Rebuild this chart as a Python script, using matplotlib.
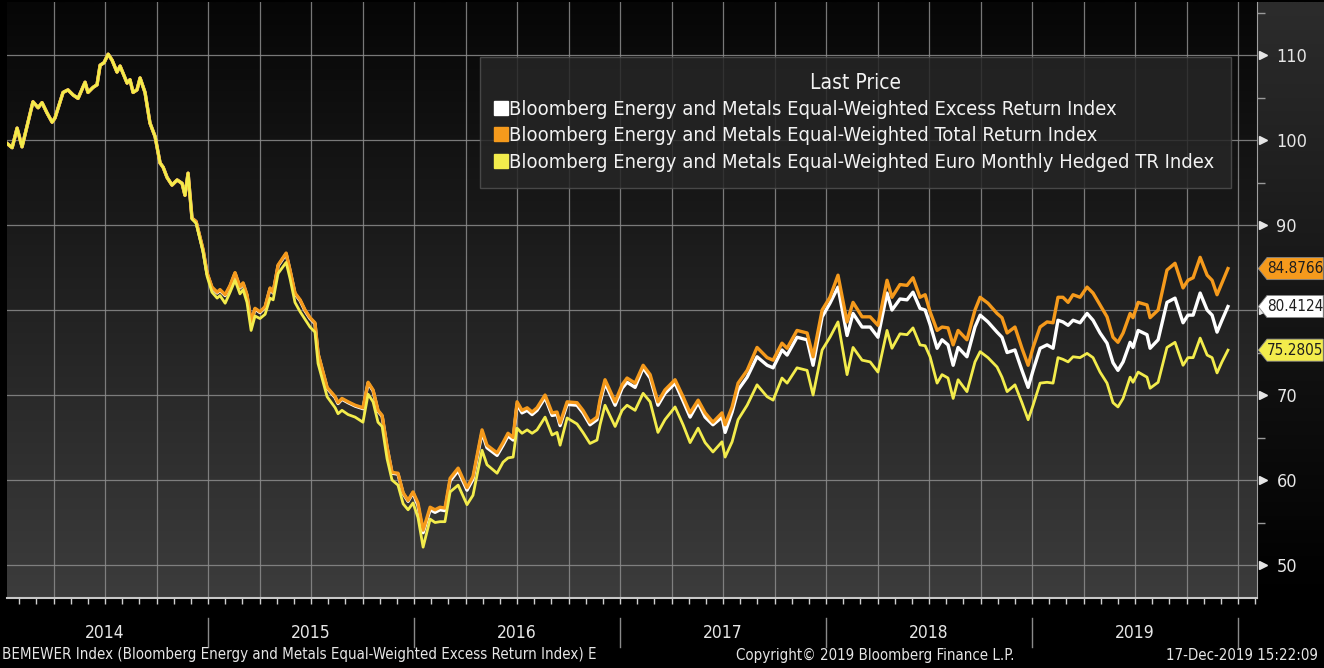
import numpy as np
import matplotlib
matplotlib.use("Agg")
import matplotlib.pyplot as plt
from matplotlib.colors import LinearSegmentedColormap
from matplotlib.lines import Line2D
from matplotlib.patches import Polygon
from matplotlib.transforms import blended_transform_factory

plt.rcParams['font.family'] = ['DejaVu Sans']
plt.rcParams['font.stretch'] = 'condensed'

# time axis in decimal years (roughly weekly/bi-weekly)
t_years = [
    2014.024, 2014.049, 2014.073, 2014.097, 2014.150, 2014.175, 2014.194, 2014.218, 2014.243, 2014.257,
    2014.296, 2014.320, 2014.345, 2014.369, 2014.403, 2014.417, 2014.442, 2014.461, 2014.476, 2014.495,
    2014.515, 2014.534, 2014.558, 2014.573, 2014.607, 2014.621, 2014.636, 2014.655, 2014.670, 2014.694,
    2014.718, 2014.743, 2014.767, 2014.782, 2014.801, 2014.825, 2014.850, 2014.874, 2014.888, 2014.903,
    2014.922, 2014.942, 2014.976, 2014.995, 2015.019, 2015.044, 2015.058, 2015.083, 2015.107, 2015.131,
    2015.155, 2015.170, 2015.189, 2015.209, 2015.228, 2015.252, 2015.277, 2015.301, 2015.316, 2015.340,
    2015.379, 2015.398, 2015.422, 2015.447, 2015.471, 2015.495, 2015.519, 2015.534, 2015.578, 2015.617,
    2015.631, 2015.650, 2015.680, 2015.714, 2015.752, 2015.777, 2015.801, 2015.825, 2015.845, 2015.869,
    2015.893, 2015.922, 2015.947, 2015.971, 2015.995, 2016.019, 2016.044, 2016.078, 2016.102, 2016.126,
    2016.150, 2016.175, 2016.214, 2016.257, 2016.286, 2016.330, 2016.354, 2016.403, 2016.432, 2016.456,
    2016.481, 2016.500, 2016.524, 2016.549, 2016.573, 2016.597, 2016.636, 2016.670, 2016.694, 2016.709,
    2016.743, 2016.791, 2016.820, 2016.854, 2016.888, 2016.903, 2016.927, 2016.976, 2017.010, 2017.034,
    2017.073, 2017.112, 2017.146, 2017.184, 2017.218, 2017.267, 2017.306, 2017.340, 2017.379, 2017.413,
    2017.451, 2017.495, 2017.510, 2017.544, 2017.573, 2017.617, 2017.665, 2017.714, 2017.743, 2017.786,
    2017.811, 2017.859, 2017.908, 2017.937, 2017.981, 2018.019, 2018.058, 2018.102, 2018.131, 2018.175,
    2018.214, 2018.252, 2018.296, 2018.320, 2018.359, 2018.393, 2018.422, 2018.456, 2018.481, 2018.505,
    2018.539, 2018.563, 2018.592, 2018.617, 2018.641, 2018.684, 2018.723, 2018.748, 2018.786, 2018.830,
    2018.854, 2018.879, 2018.917, 2018.951, 2018.981, 2019.005, 2019.039, 2019.073, 2019.102, 2019.126,
    2019.150, 2019.175, 2019.199, 2019.233, 2019.267, 2019.296, 2019.330, 2019.364, 2019.393, 2019.417,
    2019.442, 2019.476, 2019.490, 2019.515, 2019.558, 2019.573, 2019.612, 2019.655, 2019.694, 2019.733,
    2019.757, 2019.782, 2019.816, 2019.850, 2019.874, 2019.898, 2019.922, 2019.951,
]

# Total Return index (orange)
total_return = [
    99.6, 99.1, 101.4, 99.2, 104.5, 103.8, 104.4, 103.2, 102.1, 102.6,
    105.6, 105.9, 105.3, 104.9, 106.8, 105.6, 106.2, 106.5, 108.8, 109.1,
    110.1, 109.4, 108.0, 108.7, 106.7, 107.1, 105.6, 105.9, 107.3, 105.6,
    102.0, 100.4, 97.3, 96.8, 95.6, 94.7, 95.3, 94.9, 93.5, 96.1,
    90.8, 90.4, 87.1, 84.4, 82.7, 82.1, 82.4, 81.8, 82.9, 84.4,
    82.7, 83.2, 81.8, 78.6, 80.2, 79.8, 80.4, 82.6, 82.1, 85.3,
    86.7, 84.7, 82.0, 81.2, 80.0, 79.1, 78.5, 74.9, 70.9, 69.8,
    69.1, 69.6, 69.2, 68.8, 68.5, 71.5, 70.6, 68.2, 67.6, 63.9,
    60.9, 60.8, 58.5, 57.6, 58.6, 57.3, 54.1, 56.8, 56.5, 56.8,
    56.7, 60.2, 61.4, 59.1, 60.4, 65.9, 64.1, 63.2, 64.4, 65.5,
    65.0, 69.2, 68.2, 68.5, 68.0, 68.5, 70.0, 67.9, 68.0, 66.7,
    69.2, 69.1, 68.2, 66.8, 67.4, 69.5, 71.8, 69.2, 71.2, 72.0,
    71.4, 73.5, 72.4, 69.2, 70.6, 71.8, 69.8, 67.9, 69.4, 67.9,
    66.8, 67.9, 66.5, 68.6, 71.4, 72.9, 75.6, 74.4, 74.1, 76.1,
    75.5, 77.6, 77.3, 74.5, 80.0, 81.5, 84.1, 78.6, 80.9, 79.2,
    79.2, 78.2, 83.5, 81.5, 83.0, 82.9, 83.8, 81.5, 81.8, 79.8,
    77.6, 78.0, 77.9, 75.9, 77.6, 76.5, 80.0, 81.5, 80.8, 79.6,
    79.1, 77.3, 78.0, 75.5, 73.5, 75.6, 78.0, 78.6, 78.5, 81.5,
    81.5, 80.9, 81.8, 81.5, 82.7, 82.0, 80.6, 79.2, 76.8, 76.2,
    77.3, 79.6, 79.1, 80.9, 80.6, 79.1, 80.0, 84.7, 85.5, 82.6,
    83.5, 83.8, 86.2, 84.1, 83.5, 81.8, 83.2, 84.8766,
]

# Excess Return index (white)
excess_return = [
    99.6, 99.1, 101.4, 99.2, 104.5, 103.8, 104.4, 103.2, 102.1, 102.6,
    105.6, 105.9, 105.3, 104.9, 106.8, 105.6, 106.2, 106.5, 108.8, 109.1,
    110.1, 109.4, 108.0, 108.7, 106.7, 107.1, 105.6, 105.9, 107.3, 105.6,
    102.0, 100.4, 97.3, 96.8, 95.6, 94.7, 95.3, 94.9, 93.5, 96.1,
    90.8, 90.4, 87.0, 84.3, 82.6, 82.0, 82.3, 81.7, 82.8, 84.3,
    82.6, 83.1, 81.7, 78.5, 80.1, 79.7, 80.3, 82.5, 82.0, 85.2,
    86.6, 84.6, 81.9, 81.1, 79.9, 79.0, 78.4, 74.8, 70.8, 69.7,
    69.0, 69.5, 69.1, 68.7, 68.4, 71.4, 70.5, 68.1, 67.5, 63.8,
    60.8, 60.7, 58.4, 57.5, 58.5, 57.0, 53.8, 56.5, 56.2, 56.5,
    56.4, 59.9, 61.1, 58.8, 60.1, 65.6, 63.8, 62.9, 64.1, 65.2,
    64.7, 68.9, 67.9, 68.2, 67.7, 68.2, 69.7, 67.6, 67.7, 66.4,
    68.9, 68.8, 67.9, 66.5, 67.1, 69.1, 71.4, 68.8, 70.8, 71.5,
    70.9, 73.2, 72.0, 68.8, 70.2, 71.4, 69.3, 67.4, 69.1, 67.4,
    66.5, 67.4, 65.6, 68.0, 70.6, 72.1, 74.5, 73.5, 73.2, 75.3,
    74.7, 76.8, 76.5, 73.5, 79.2, 80.8, 82.7, 77.0, 79.6, 78.0,
    78.0, 76.8, 82.0, 80.0, 81.3, 81.2, 82.1, 80.2, 80.0, 78.3,
    75.5, 76.5, 75.9, 73.5, 75.6, 74.5, 78.0, 79.4, 78.6, 77.4,
    76.8, 75.0, 75.3, 72.9, 70.9, 72.9, 75.5, 75.9, 75.5, 78.8,
    78.6, 78.2, 78.8, 78.5, 79.6, 78.8, 77.3, 76.1, 73.8, 72.9,
    73.9, 76.2, 75.6, 77.6, 77.1, 75.5, 76.5, 80.9, 81.4, 78.5,
    79.4, 79.4, 82.0, 80.0, 79.4, 77.4, 78.8, 80.4124,
]

# Euro Monthly Hedged TR index (yellow)
euro_hedged = [
    99.6, 99.1, 101.4, 99.2, 104.5, 103.8, 104.4, 103.2, 102.1, 102.6,
    105.6, 105.9, 105.3, 104.9, 106.8, 105.6, 106.2, 106.5, 108.8, 109.1,
    110.1, 109.4, 108.0, 108.7, 106.7, 107.1, 105.6, 105.9, 107.3, 105.6,
    102.0, 100.4, 97.3, 96.8, 95.6, 94.7, 95.3, 94.9, 93.5, 96.1,
    90.7, 90.2, 86.8, 84.0, 82.1, 81.4, 81.7, 80.8, 82.1, 83.5,
    81.9, 82.4, 80.9, 77.6, 79.3, 79.0, 79.5, 81.4, 81.2, 84.3,
    85.6, 83.7, 80.9, 79.8, 78.9, 78.0, 77.4, 73.7, 69.8, 68.5,
    67.8, 68.2, 67.7, 67.4, 66.8, 70.1, 69.2, 66.8, 66.3, 62.5,
    60.0, 59.4, 57.2, 56.5, 57.3, 55.6, 52.1, 55.4, 55.0, 55.1,
    55.1, 58.6, 59.4, 57.1, 58.2, 63.5, 61.8, 60.8, 62.1, 62.6,
    62.7, 66.1, 65.5, 65.9, 65.5, 65.9, 67.4, 65.3, 65.6, 64.1,
    67.3, 66.6, 65.6, 64.3, 64.7, 66.5, 68.8, 66.3, 68.2, 68.8,
    68.2, 70.2, 69.2, 65.6, 67.1, 68.6, 66.5, 64.4, 66.1, 64.4,
    63.3, 64.5, 62.7, 64.5, 67.1, 68.8, 71.2, 69.8, 69.4, 72.0,
    71.4, 73.2, 72.9, 70.0, 75.3, 76.8, 78.6, 72.4, 75.6, 74.1,
    73.9, 72.7, 77.6, 75.5, 77.2, 77.1, 77.9, 75.9, 75.8, 74.5,
    71.4, 72.4, 72.0, 69.6, 71.8, 70.4, 73.9, 75.1, 74.4, 73.3,
    72.1, 70.4, 71.2, 69.1, 67.1, 68.8, 71.4, 71.5, 71.4, 74.4,
    74.2, 73.9, 74.5, 74.4, 74.9, 74.4, 72.7, 71.4, 69.1, 68.6,
    69.6, 72.1, 71.5, 72.7, 72.1, 70.8, 71.5, 75.6, 76.2, 73.5,
    74.4, 74.4, 76.7, 74.7, 74.4, 72.6, 73.9, 75.2805,
]

labels = [
    "Bloomberg Energy and Metals Equal-Weighted Excess Return Index",
    "Bloomberg Energy and Metals Equal-Weighted Total Return Index",
    "Bloomberg Energy and Metals Equal-Weighted Euro Monthly Hedged TR Index",
]
years = [2014, 2015, 2016, 2017, 2018, 2019]
y_major = [50, 60, 70, 80, 90, 100, 110]
# the 80 label sits under the white last-price tag on the original
y_labels = ['50', '60', '70', '', '90', '100', '110']

c_white = '#ffffff'
c_orange = '#f59a1c'
c_yellow = '#f3ec4c'

W, H = 1324, 668
fig = plt.figure(figsize=(W / 100, H / 100), dpi=100, facecolor='black')

# right margin strip (darkish gradient)
side = fig.add_axes([1257 / W, 1 - 598 / H, 67 / W, 596 / H], zorder=-1)
side.imshow(np.linspace(0, 1, 256).reshape(-1, 1), aspect='auto', origin='lower',
            extent=[0, 1, 0, 1],
            cmap=LinearSegmentedColormap.from_list('s', ['#000000', '#2c2c2c']))
side.axis('off')

ax = fig.add_axes([7 / W, 1 - 598 / H, 1250 / W, 596 / H])
grad = LinearSegmentedColormap.from_list('bg', ['#3c3c3c', '#060606'])
ax.imshow(np.linspace(0, 1, 256).reshape(-1, 1), aspect='auto', origin='lower',
          extent=[0, 1, 0, 1], transform=ax.transAxes, cmap=grad, zorder=0)

ax.plot(t_years, excess_return, color=c_white, lw=2.4, zorder=3)
ax.plot(t_years, total_return, color=c_orange, lw=2.4, zorder=4)
ax.plot(t_years, euro_hedged, color=c_yellow, lw=2.0, zorder=5)

# x: quarter grid, monthly ticks
quarters = [y + q * 0.25 for y in range(2014, 2021) for q in range(4)]
months = [y + m / 12 for y in range(2014, 2021) for m in range(12)]
ax.set_xticks([q for q in quarters if q <= 2020.0])
ax.set_xticks(months, minor=True)
ax.tick_params(axis='x', which='both', length=4, width=1, color='#cfcfcf',
               labelbottom=False, direction='out')

# y on the right
ax.yaxis.tick_right()
ax.set_yticks(y_major, y_labels)
ax.set_yticks(range(45, 120, 10), minor=True)
ax.tick_params(axis='y', which='major', length=0, pad=14, labelsize=13,
               labelcolor='#e6e6e6')
ax.tick_params(axis='y', which='minor', length=6, width=1, color='#9a9a9a')

ax.set_xlim(2014.024, 2020.092)
ax.set_ylim(46.12, 116.24)

tr_ax = blended_transform_factory(ax.transAxes, ax.transData)
ax.plot([1.0045] * len(y_major), y_major, marker='>', ms=6, color='#e6e6e6',
        ls='none', transform=tr_ax, clip_on=False, zorder=6)

ax.grid(True, which='major', color='#8c8c8c', lw=0.9, alpha=0.85)
for gl in ax.get_xgridlines() + ax.get_ygridlines():
    gl.set_zorder(1)

for s in ['top', 'left']:
    ax.spines[s].set_visible(False)
ax.spines['right'].set_color('#a0a0a0')
ax.spines['bottom'].set_color('#c8c8c8')
ax.spines['bottom'].set_linewidth(1.5)

# year labels and separators under the axis
tr_x = blended_transform_factory(ax.transData, ax.transAxes)
for y in years:
    ax.text(y + 0.5, -0.058, str(y), transform=tr_x, ha='center', va='center',
            color='#e6e6e6', fontsize=12.5, clip_on=False)
for y in years[1:] + [2020]:
    ax.plot([y, y], [-0.034, -0.082], transform=tr_x, color='#8a8a8a', lw=1,
            clip_on=False)

# last price tags
for val, fc in [(total_return[-1], c_orange), (excess_return[-1], c_white),
                (euro_hedged[-1], c_yellow)]:
    h = 1.3
    pts = [(1.001, val), (1.008, val + h), (1.053, val + h), (1.053, val - h),
           (1.008, val - h)]
    ax.add_patch(Polygon(pts, closed=True, transform=tr_ax, facecolor=fc,
                         edgecolor='#888888', lw=0.6, clip_on=False, zorder=7))
    ax.text(1.0305, val, f"{val:.4f}", transform=tr_ax, ha='center', va='center',
            fontsize=11, color='#1e1e1e', clip_on=False, zorder=8)

# legend
handles = [Line2D([], [], marker='s', ls='none', ms=9.5, markerfacecolor=c,
                  markeredgecolor=c) for c in (c_white, c_orange, c_yellow)]
leg = ax.legend(handles, labels, title='Last Price', loc='upper right',
                bbox_to_anchor=(0.979, 0.908), frameon=True, fancybox=False,
                facecolor='#262626', edgecolor='#505050', framealpha=0.85,
                fontsize=14.5, title_fontsize=15, labelcolor='#f2f2f2',
                handlelength=0.5, handletextpad=0.15, labelspacing=0.36,
                borderpad=0.8, borderaxespad=0)
leg.get_title().set_color('#f2f2f2')
leg.set_zorder(10)

# footer
fig.text(2 / W, 1 - 655 / H, "BEMEWER Index (Bloomberg Energy and Metals Equal-Weighted Excess Return Index) E",
         ha='left', va='center', color='#e6e6e6', fontsize=10.8)
fig.text(875 / W, 1 - 655 / H, "Copyright\u00a9 2019 Bloomberg Finance L.P.",
         ha='center', va='center', color='#e6e6e6', fontsize=10.8)
fig.text(1318 / W, 1 - 655 / H, "17-Dec-2019 15:22:09",
         ha='right', va='center', color='#e6e6e6', fontsize=10.8)

fig.savefig('out.png', dpi=100, facecolor='black')
